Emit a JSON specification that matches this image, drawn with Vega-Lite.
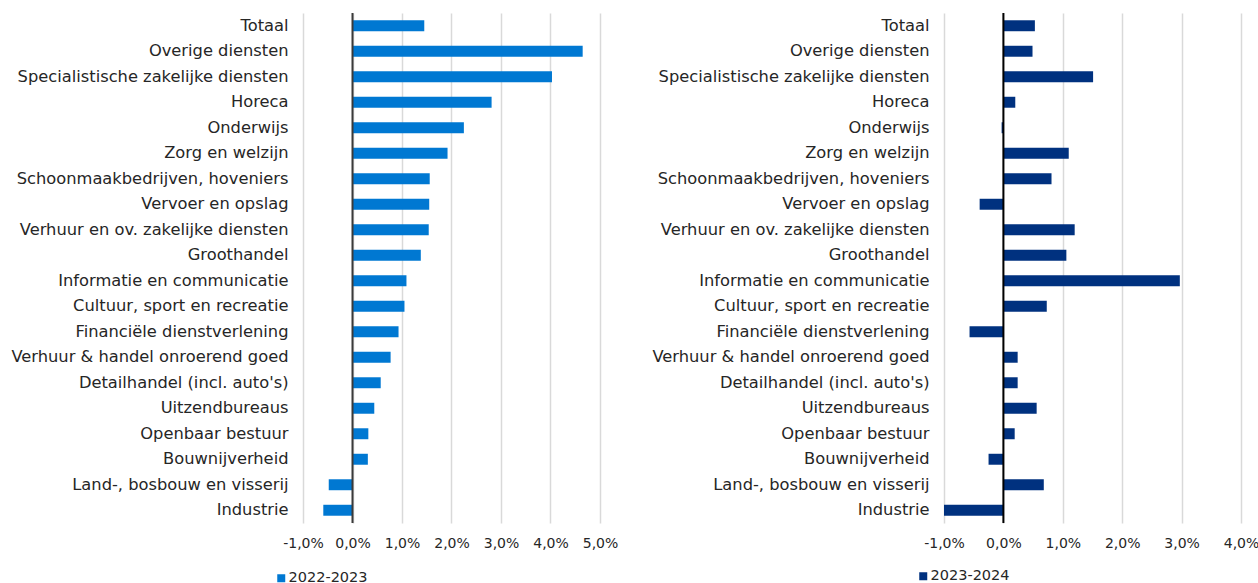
{
  "$schema": "https://vega.github.io/schema/vega-lite/v6.json",
  "padding": {"left": 5, "top": 12, "right": 5, "bottom": 0},
  "config": {
    "locale": {"number": {"decimal": ",", "thousands": ".", "grouping": [3], "currency": ["€ ", ""], "minus": "-"}},
    "font": "DejaVu Sans",
    "view": {"stroke": null},
    "axisX": {"grid": true, "gridColor": "#d9d9d9", "gridWidth": 1.5, "domain": false, "ticks": false, "labelFontSize": 14, "labelColor": "#262626", "labelPadding": 13, "labelOverlap": false, "labelFlush": false, "title": null, "format": ".1%"},
    "axisY": {"grid": false, "domain": false, "ticks": false, "labelFontSize": 16.3, "labelColor": "#262626", "labelPadding": 15, "labelLimit": 400, "minExtent": 298, "maxExtent": 298, "title": null},
    "legend": {"orient": "none", "title": null, "symbolType": "square", "symbolSize": 64, "symbolStrokeWidth": 0, "labelFontSize": 14.5, "labelColor": "#262626", "labelOffset": 0, "direction": "vertical"}
  },
  "datasets": {
    "d2223": [
      {"sector": "Totaal", "period": "2022-2023", "value": 0.0145},
      {"sector": "Overige diensten", "period": "2022-2023", "value": 0.0465},
      {"sector": "Specialistische zakelijke diensten", "period": "2022-2023", "value": 0.0403},
      {"sector": "Horeca", "period": "2022-2023", "value": 0.0281},
      {"sector": "Onderwijs", "period": "2022-2023", "value": 0.0225},
      {"sector": "Zorg en welzijn", "period": "2022-2023", "value": 0.0192},
      {"sector": "Schoonmaakbedrijven, hoveniers", "period": "2022-2023", "value": 0.0156},
      {"sector": "Vervoer en opslag", "period": "2022-2023", "value": 0.0155},
      {"sector": "Verhuur en ov. zakelijke diensten", "period": "2022-2023", "value": 0.0154},
      {"sector": "Groothandel", "period": "2022-2023", "value": 0.0138},
      {"sector": "Informatie en communicatie", "period": "2022-2023", "value": 0.0109},
      {"sector": "Cultuur, sport en recreatie", "period": "2022-2023", "value": 0.0105},
      {"sector": "Financiële dienstverlening", "period": "2022-2023", "value": 0.0093},
      {"sector": "Verhuur & handel onroerend goed", "period": "2022-2023", "value": 0.0077},
      {"sector": "Detailhandel (incl. auto's)", "period": "2022-2023", "value": 0.0057},
      {"sector": "Uitzendbureaus", "period": "2022-2023", "value": 0.0044},
      {"sector": "Openbaar bestuur", "period": "2022-2023", "value": 0.0032},
      {"sector": "Bouwnijverheid", "period": "2022-2023", "value": 0.0031},
      {"sector": "Land-, bosbouw en visserij", "period": "2022-2023", "value": -0.0048},
      {"sector": "Industrie", "period": "2022-2023", "value": -0.0059}
    ],
    "d2324": [
      {"sector": "Totaal", "period": "2023-2024", "value": 0.0053},
      {"sector": "Overige diensten", "period": "2023-2024", "value": 0.0049},
      {"sector": "Specialistische zakelijke diensten", "period": "2023-2024", "value": 0.0151},
      {"sector": "Horeca", "period": "2023-2024", "value": 0.0020},
      {"sector": "Onderwijs", "period": "2023-2024", "value": -0.0003},
      {"sector": "Zorg en welzijn", "period": "2023-2024", "value": 0.0110},
      {"sector": "Schoonmaakbedrijven, hoveniers", "period": "2023-2024", "value": 0.0081},
      {"sector": "Vervoer en opslag", "period": "2023-2024", "value": -0.0040},
      {"sector": "Verhuur en ov. zakelijke diensten", "period": "2023-2024", "value": 0.0120},
      {"sector": "Groothandel", "period": "2023-2024", "value": 0.0106},
      {"sector": "Informatie en communicatie", "period": "2023-2024", "value": 0.0297},
      {"sector": "Cultuur, sport en recreatie", "period": "2023-2024", "value": 0.0073},
      {"sector": "Financiële dienstverlening", "period": "2023-2024", "value": -0.0057},
      {"sector": "Verhuur & handel onroerend goed", "period": "2023-2024", "value": 0.0024},
      {"sector": "Detailhandel (incl. auto's)", "period": "2023-2024", "value": 0.0024},
      {"sector": "Uitzendbureaus", "period": "2023-2024", "value": 0.0056},
      {"sector": "Openbaar bestuur", "period": "2023-2024", "value": 0.0019},
      {"sector": "Bouwnijverheid", "period": "2023-2024", "value": -0.0025},
      {"sector": "Land-, bosbouw en visserij", "period": "2023-2024", "value": 0.0068},
      {"sector": "Industrie", "period": "2023-2024", "value": -0.0100}
    ],
    "zero": [{"z": 0}]
  },
  "spacing": 28,
  "hconcat": [
    {
      "width": 297,
      "height": 510,
      "layer": [
        {
          "data": {"name": "d2223"},
          "mark": {"type": "bar"},
          "encoding": {
            "y": {"field": "sector", "type": "nominal", "sort": null, "scale": {"paddingInner": 0.57, "paddingOuter": 0.285}},
            "x": {"field": "value", "type": "quantitative", "scale": {"domain": [-0.01, 0.05], "nice": false, "zero": false}, "axis": {"values": [-0.01, 0, 0.01, 0.02, 0.03, 0.04, 0.05]}},
            "color": {"field": "period", "type": "nominal", "scale": {"range": ["#0078D2"]}, "legend": {"legendX": -29, "legendY": 558}}
          }
        },
        {
          "data": {"name": "zero"},
          "mark": {"type": "rule", "color": "#3a3a3a", "strokeWidth": 2},
          "encoding": {"x": {"field": "z", "type": "quantitative"}}
        }
      ]
    },
    {
      "width": 297,
      "height": 510,
      "layer": [
        {
          "data": {"name": "d2324"},
          "mark": {"type": "bar"},
          "encoding": {
            "y": {"field": "sector", "type": "nominal", "sort": null, "scale": {"paddingInner": 0.57, "paddingOuter": 0.285}},
            "x": {"field": "value", "type": "quantitative", "scale": {"domain": [-0.01, 0.04], "nice": false, "zero": false}, "axis": {"values": [-0.01, 0, 0.01, 0.02, 0.03, 0.04]}},
            "color": {"field": "period", "type": "nominal", "scale": {"range": ["#00317F"]}, "legend": {"legendX": -28, "legendY": 556}}
          }
        },
        {
          "data": {"name": "zero"},
          "mark": {"type": "rule", "color": "#000000", "strokeWidth": 2},
          "encoding": {"x": {"field": "z", "type": "quantitative"}}
        }
      ]
    }
  ],
  "resolve": {"scale": {"color": "independent", "x": "independent", "y": "independent"}}
}
